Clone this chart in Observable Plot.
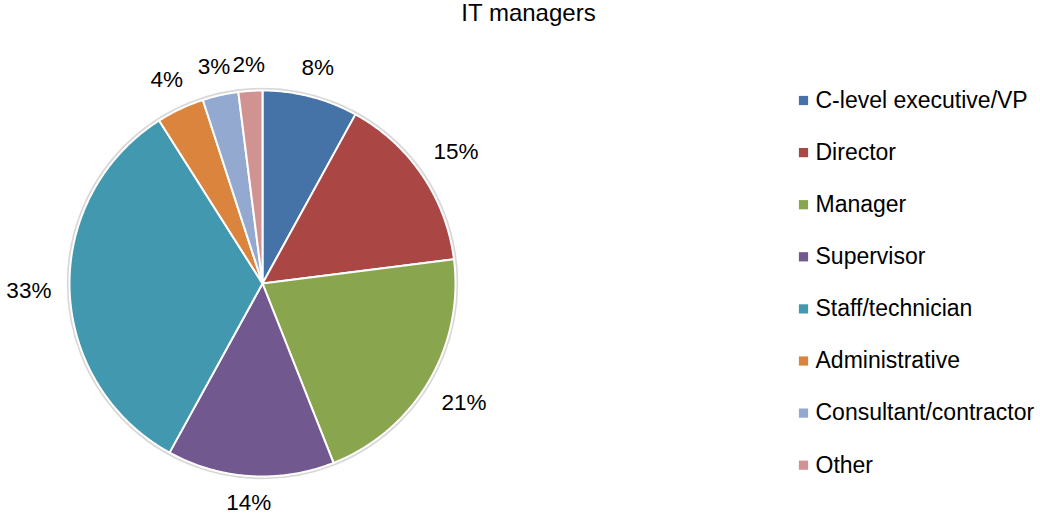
<!DOCTYPE html>
<html><head><meta charset="utf-8">
<script src="https://cdn.jsdelivr.net/npm/d3@7"></script>
<script src="https://cdn.jsdelivr.net/npm/@observablehq/plot@0.6"></script>
<style>body{margin:0;background:#fff}</style>
</head><body><div id="chart"></div>
<script>
const title = "IT managers";
const categories = ["C-level executive/VP","Director","Manager","Supervisor","Staff/technician","Administrative","Consultant/contractor","Other"];
const values = [8,15,21,14,33,4,3,2];
const colors = ["#4572A7","#AA4643","#89A54E","#71588F","#4198AF","#DB843D","#93A9CF","#D19392"];

const W = 1040, H = 514, cx = 262, cy = 283, R = 193;
const FS = 22.5, GAP = 18, HH = 7.5;
const total = d3.sum(values);
const arcs = d3.pie().sort(null).value(d => d)(values);

// slice polygons (computed from data)
const slices = [];
arcs.forEach((p, i) => {
  const n = Math.max(2, Math.ceil((p.endAngle - p.startAngle) / (Math.PI / 360)));
  slices.push({cat: categories[i], x: cx, y: cy});
  for (let k = 0; k <= n; k++) {
    const a = p.startAngle + (p.endAngle - p.startAngle) * k / n;
    slices.push({cat: categories[i], x: cx + R * Math.sin(a), y: cy - R * Math.cos(a)});
  }
  slices.push({cat: categories[i], x: cx, y: cy});
});

// percentage labels
function textW(s) { let w = 0; for (const c of s) w += (c === "%" ? 0.889 : 0.556); return w * FS; }
const labels = arcs.map((p, i) => {
  const a = (p.startAngle + p.endAngle) / 2;
  const txt = Math.round(values[i] / total * 100) + "%";
  const hw = textW(txt) / 2;
  const d = R + GAP + hw * Math.abs(Math.sin(a)) + HH * Math.abs(Math.cos(a));
  return {txt, x: cx + d * Math.sin(a), y: cy - d * Math.cos(a)};
});

// legend rows
const LX = 803, LY0 = 100, LDY = 52.1;
const legend = categories.map((c, i) => ({cat: c, x: LX, y: LY0 + i * LDY}));

const chart = Plot.plot({
  width: W, height: H,
  margin: 0,
  x: {domain: [0, W], range: [0, W], axis: null},
  y: {domain: [0, H], range: [0, H], axis: null},
  color: {domain: categories, range: colors},
  style: {fontFamily: "'Liberation Sans', Arial, sans-serif", background: "#fff"},
  marks: [
    Plot.dot([{x: cx, y: cy}], {x: "x", y: "y", r: R + 1.5, stroke: "#d8d8d8", strokeWidth: 2.5, fill: "none"}),
    Plot.line(slices, {x: "x", y: "y", z: "cat", fill: "cat", stroke: "#fff", strokeWidth: 2, strokeLinejoin: "round", curve: "linear"}),
    Plot.text(labels, {x: "x", y: "y", text: "txt", fontSize: FS, fill: "#000", textAnchor: "middle", lineAnchor: "middle"}),
    Plot.dot(legend, {x: "x", y: "y", fill: "cat", symbol: "square", r: 5.2}),
    Plot.text(legend, {x: d => d.x + 12, y: "y", text: "cat", fontSize: 23, fill: "#000", textAnchor: "start", lineAnchor: "middle"}),
    Plot.text([title], {x: () => 528, y: () => 13, text: d => d, fontSize: 24, fill: "#000", textAnchor: "middle", lineAnchor: "middle"})
  ]
});
document.getElementById("chart").appendChild(chart);
</script>
</body></html>
